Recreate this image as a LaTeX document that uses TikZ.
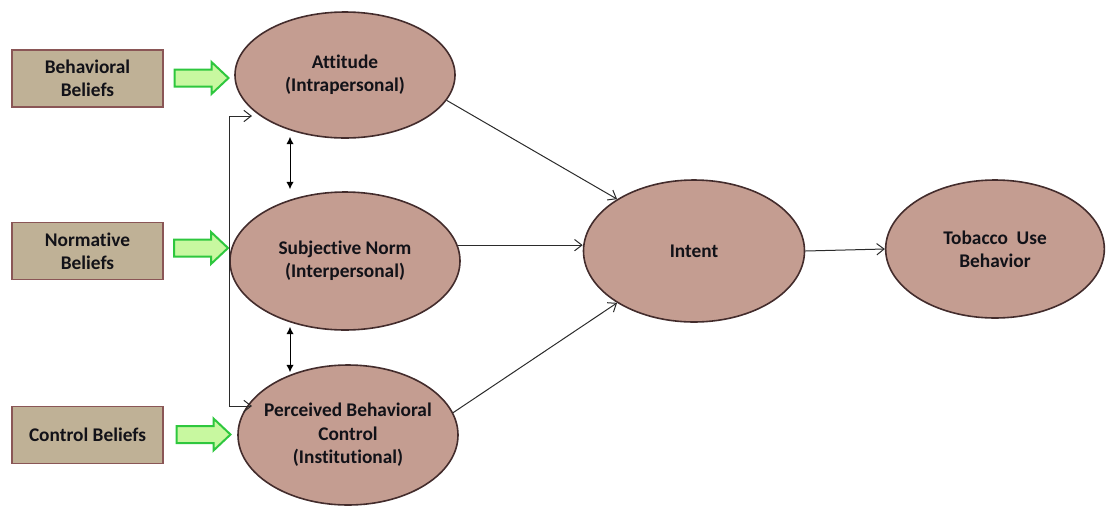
\documentclass[tikz,border=0pt]{standalone}
\usepackage{fontspec}
\setmainfont{Carlito}[RawFeature={-liga;-clig;-dlig}]
\usetikzlibrary{shapes.geometric,arrows.meta,calc}
\definecolor{ellfill}{HTML}{C49D91}
\definecolor{elldraw}{HTML}{432C2C}
\definecolor{boxfill}{HTML}{BFB196}
\definecolor{boxdraw}{HTML}{8A5656}
\definecolor{gfill}{HTML}{C8F8A0}
\definecolor{gdraw}{HTML}{2EC73E}
\definecolor{linec}{HTML}{2B2B2B}
\definecolor{txt}{HTML}{121218}
\tikzset{
  construct/.style={ellipse, draw=elldraw, fill=ellfill, line width=1.2pt, align=center,
    font=\fontsize{14.5}{17.5}\selectfont\bfseries, text=txt, inner sep=-10pt},
  belief/.style={rectangle, draw=boxdraw, fill=boxfill, line width=1.1pt, align=center,
    minimum width=113pt, minimum height=43pt, inner sep=0pt,
    font=\fontsize{14.5}{17.5}\selectfont\bfseries, text=txt},
  conn/.style={draw=linec, line width=0.75pt, -{Straight Barb[length=5.5pt,width=8.5pt]}},
  bracketconn/.style={draw=linec, line width=0.75pt, {Straight Barb[length=5.5pt,width=8.5pt]}-{Straight Barb[length=5.5pt,width=8.5pt]}},
  dblconn/.style={draw=black, line width=0.75pt, {Latex[length=5.5pt,width=5.5pt]}-{Latex[length=5.5pt,width=5.5pt]}},
  garrow/.pic={
    \draw[draw=gdraw, fill=gfill, line width=1.5pt, line join=miter]
      (-27,-8.5) -- (10,-8.5) -- (10,-16) -- (27,0) -- (10,16) -- (10,8.5) -- (-27,8.5) -- cycle;
  }
}
\begin{document}
\begin{tikzpicture}[x=0.75pt, y=-0.75pt]
\useasboundingbox (0,0) rectangle (1107,508);

% belief boxes
\node[belief] (bb) at (87.5,78.5) {Behavioral\\Beliefs};
\node[belief] (nb) at (87.5,251) {Normative\\Beliefs};
\node[belief] (cb) at (87.5,435) {Control Beliefs};

% green block arrows
\pic at (201.5,78) {garrow};
\pic at (201,248) {garrow};
\pic at (203.5,434.5) {garrow};

% constructs
\node[construct, minimum width=165pt, minimum height=94.5pt] (att) at (345,75) {Attitude\\(Intrapersonal)};
\node[construct, minimum width=172.5pt, minimum height=103.5pt] (subj) at (345,261) {Subjective Norm\\(Interpersonal)};
\node[construct, minimum width=165pt, minimum height=105pt] (perc) at (348,435) {Perceived Behavioral\\Control\\(Institutional)};
\node[construct, minimum width=165.75pt, minimum height=106.5pt] (int) at (694,251) {Intent};
\node[construct, minimum width=164pt, minimum height=103.5pt] (tob) at (995,249) {Tobacco~ Use\\Behavior};

% connectors
\draw[conn] (att.-14) -- (int.146);
\draw[conn] (subj.8) -- (subj.8 -| int.west);
\draw[conn] (perc.12) -- (int.214);
\draw[conn] (int.east) -- (tob.west);

% double arrows between constructs
\draw[dblconn, shorten <=-1.5pt, shorten >=1.5pt] ([xshift=-41.25pt]att.south) -- ([xshift=-41.25pt]subj.north);
\draw[dblconn, shorten <=-3pt, shorten >=-6pt] ([xshift=-41.25pt]subj.south) -- ([xshift=-43.5pt]perc.north);

% bracket connector
\coordinate (bt) at (252,116);
\coordinate (bbot) at (252,406);
\draw[bracketconn] (bt) -- ++(-23,0) |- (bbot);
\end{tikzpicture}
\end{document}
